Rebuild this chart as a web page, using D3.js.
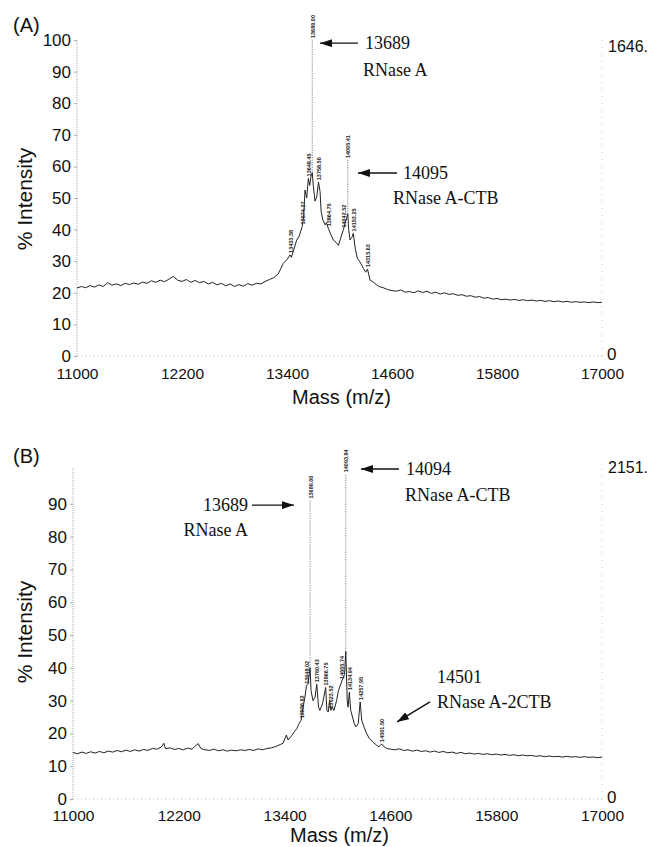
<!DOCTYPE html>
<html><head><meta charset="utf-8">
<script src="https://cdn.jsdelivr.net/npm/d3@7"></script>
<style>body{margin:0;background:#fff}svg{display:block}</style>
</head><body>
<svg id="c" width="653" height="847"></svg>
<script>
// ---------------- data ----------------
const xTicks = [11000, 12200, 13400, 14600, 15800, 17000];
const yTicksA = [0,10,20,30,40,50,60,70,80,90,100];
const yTicksB = [0,10,20,30,40,50,60,70,80,90];

// Panel A spectrum: [mass, % intensity]
const spectrumA = [
 [11000,21.5],[11050,22.0],[11100,21.6],[11150,22.3],[11200,21.8],[11250,22.5],[11300,22.0],[11350,23.2],
 [11400,22.4],[11450,22.8],[11500,22.3],[11550,23.0],[11600,22.6],[11650,23.1],[11700,22.7],[11750,23.4],
 [11800,23.0],[11850,23.8],[11900,23.3],[11950,24.0],[12000,23.5],[12050,24.3],[12100,25.2],[12150,24.0],
 [12200,23.6],[12250,24.2],[12300,23.3],[12350,23.9],[12400,23.2],[12450,23.6],[12500,22.8],[12550,23.3],
 [12600,22.5],[12650,23.0],[12700,22.2],[12750,22.8],[12800,22.0],[12850,22.6],[12900,22.1],[12950,22.9],
 [13000,22.4],[13050,23.0],[13100,22.8],[13150,23.6],[13200,24.2],[13250,24.8],[13300,26.0],
 [13358,29.3],[13400,30.5],[13435,32.0],[13450,31.2],[13511,36.7],[13540,38.0],[13574,41.0],[13590,44.0],
 [13606,52.5],[13625,50.0],[13644,56.2],[13660,54.0],[13675,57.0],[13689,58.0],[13700,54.0],[13720,49.0],
 [13740,50.4],[13760,55.0],[13778,52.0],[13790,45.7],[13810,43.0],[13835,41.5],[13850,42.2],[13872,40.4],
 [13900,38.5],[13929,36.7],[13960,36.0],[13987,35.0],[14010,37.0],[14044,40.0],[14065,42.0],[14095,45.0],
 [14105,40.0],[14120,36.7],[14140,37.5],[14158,38.8],[14180,34.0],[14204,30.9],[14240,29.5],[14273,27.7],
 [14300,26.5],[14320,27.5],[14349,24.0],[14380,23.5],[14426,22.5],
 [14450,22.0],[14500,21.6],[14550,21.0],[14600,20.7],[14650,20.5],[14700,20.9],[14750,20.2],[14800,20.4],
 [14850,20.0],[14900,20.6],[14950,20.1],[15000,20.5],[15050,19.8],[15100,20.2],[15150,19.6],[15200,20.0],
 [15250,19.5],[15300,19.7],[15350,19.2],[15400,19.4],[15450,18.9],[15500,19.1],[15550,18.6],[15600,18.8],
 [15650,18.3],[15700,18.5],[15750,18.0],[15800,18.2],[15850,17.8],[15900,18.0],[15950,17.7],[16000,17.9],
 [16050,17.6],[16100,17.8],[16150,17.5],[16200,17.7],[16250,17.4],[16300,17.6],[16350,17.3],[16400,17.5],
 [16450,17.2],[16500,17.4],[16550,17.1],[16600,17.3],[16650,17.0],[16700,17.2],[16750,17.0],[16800,17.1],
 [16850,16.9],[16900,17.1],[16950,16.9],[17000,17.0]
];
// spikes: [mass, base, top]
const spikesA = [[13689,58,100],[14095,45,62]];
// peak labels: [text, mass, intensity]
const peakLabelsA = [
 ["13433.38",13435,32.0],["13574.27",13574,41.0],["13648.45",13644,56.2],["13689.00",13689,100],
 ["13758.50",13760,55.0],["13864.75",13872,40.4],["14042.52",14044,40.0],["14095.41",14095,62],
 ["14153.25",14158,38.8],["14315.63",14320,27.5]
];

// Panel B spectrum
const spectrumB = [
 [11000,14.2],[11050,13.8],[11100,14.3],[11150,13.9],[11200,14.4],[11250,14.0],[11300,14.5],[11350,14.1],
 [11400,14.6],[11450,14.3],[11500,14.8],[11550,14.4],[11600,14.9],[11650,14.5],[11700,15.0],[11750,14.6],
 [11800,15.1],[11850,14.8],[11900,15.4],[11950,15.2],[12000,15.8],[12030,17.0],[12050,15.3],[12100,15.6],
 [12150,15.1],[12200,15.4],[12250,15.0],[12300,15.5],[12350,15.2],[12380,16.0],[12420,16.9],[12450,15.4],
 [12500,15.0],[12550,14.8],[12600,15.2],[12650,14.7],[12700,15.0],[12750,14.6],[12800,14.9],[12850,14.7],
 [12900,15.0],[12950,14.8],[13000,15.1],[13050,14.8],[13100,15.3],[13150,15.0],[13200,15.4],[13250,15.6],
 [13300,16.0],[13350,16.6],[13383,17.0],[13420,19.5],[13440,18.0],[13480,19.3],[13510,20.5],[13540,21.5],
 [13560,22.8],[13587,24.0],[13610,28.0],[13630,31.0],[13648,34.5],[13665,35.0],[13689,40.0],[13700,33.0],
 [13722,30.0],[13745,31.0],[13765,35.0],[13785,28.0],[13800,27.0],[13830,29.0],[13866,34.0],[13880,27.0],
 [13895,26.5],[13910,30.0],[13925,27.0],[13940,28.0],[13960,27.0],[13990,30.0],[14010,33.0],[14050,36.0],
 [14080,38.0],[14094,45.0],[14110,30.0],[14120,28.0],[14134,32.6],[14150,27.0],[14170,25.0],[14190,23.0],
 [14210,22.0],[14235,23.0],[14257,29.6],[14275,24.0],[14300,22.0],[14330,20.0],[14360,18.5],[14400,17.4],
 [14440,16.5],[14470,15.9],[14501,16.8],[14530,15.9],[14560,15.4],[14600,15.2],
 [14650,15.0],[14700,15.3],[14750,14.8],[14800,15.0],[14850,14.6],[14900,14.9],[14950,14.5],[15000,14.7],
 [15050,14.3],[15100,14.6],[15150,14.2],[15200,14.5],[15250,14.1],[15300,14.3],[15350,13.9],[15400,14.2],
 [15450,13.8],[15500,14.0],[15550,13.7],[15600,13.9],[15650,13.6],[15700,13.8],[15750,13.5],[15800,13.7],
 [15850,13.4],[15900,13.6],[15950,13.3],[16000,13.5],[16050,13.2],[16100,13.4],[16150,13.2],[16200,13.3],
 [16250,13.0],[16300,13.2],[16350,12.9],[16400,13.1],[16450,12.9],[16500,13.0],[16550,12.8],[16600,13.0],
 [16650,12.8],[16700,12.9],[16750,12.7],[16800,12.9],[16850,12.7],[16900,12.8],[16950,12.6],[17000,12.8]
];
const spikesB = [[13689,40,91],[14094,45,99]];
const peakLabelsB = [
 ["13586.92",13587,24.0],["13648.02",13648,34.5],["13689.00",13689,91],["13760.43",13765,35.0],
 ["13866.75",13866,34.0],["13923.52",13925,27.0],["14005.74",14050,36.0],["14093.84",14094,99],
 ["14134.94",14134,32.6],["14257.95",14257,29.6],["14501.50",14501,16.8]
];

// annotations (data units): number, name, arrow tail, arrow tip, text anchors
const annotA = [
 {num:"13689", name:"RNase A", tail:[14211,99], tip:[13777,99], numAt:[14291,97.2], nameAt:[14269,88.6], anchor:"start"},
 {num:"14095", name:"RNase A-CTB", tail:[14657,57.9], tip:[14211,57.9], numAt:[14726,56], nameAt:[14611,48.1], anchor:"start"}
];
const annotB = [
 {num:"13689", name:"RNase A", tail:[13030,89.6], tip:[13506,89.6], numAt:[12985,87.8], nameAt:[12985,80.2], anchor:"end"},
 {num:"14094", name:"RNase A-CTB", tail:[14697,100.6], tip:[14266,100.6], numAt:[14777,98.8], nameAt:[14765,90.9], anchor:"start"},
 {num:"14501", name:"RNase A-2CTB", tail:[15049,29.6], tip:[14675,23.5], numAt:[15128,35.4], nameAt:[15128,27.7], anchor:"start"}
];

// ---------------- drawing ----------------
const svg = d3.select("#c");
const defs = svg.append("defs");
defs.append("marker").attr("id","ah").attr("viewBox","0 0 12 8")
  .attr("refX",12).attr("refY",4).attr("markerWidth",12).attr("markerHeight",8)
  .attr("markerUnits","userSpaceOnUse").attr("orient","auto")
  .append("path").attr("d","M0,0 L12,4 L0,8 Z").attr("fill","#111");

const SANS = "'Liberation Sans', Arial, sans-serif";
const SERIF = "'Liberation Serif', 'Times New Roman', serif";

function panel(cfg) {
  const x = d3.scaleLinear().domain([11000,17000]).range(cfg.xr);
  const y = d3.scaleLinear().domain([0,100]).range(cfg.yr);
  const g = svg.append("g");

  // x axis baseline (sparse dots)
  g.append("line").attr("x1",x(11000)).attr("x2",x(17000)).attr("y1",y(0)).attr("y2",y(0))
    .attr("stroke","#aaa").attr("stroke-width",0.8).attr("stroke-dasharray","1,3");
  // right axis (faint dotted)
  g.append("line").attr("x1",x(17000)).attr("x2",x(17000)).attr("y1",y(0)).attr("y2",y(cfg.top))
    .attr("stroke","#bbb").attr("stroke-width",0.8).attr("stroke-dasharray","1,6");

  // y axis
  const ya = g.append("g").attr("transform",`translate(${x(11000)},0)`)
    .call(d3.axisLeft(y).tickValues(cfg.yticks).tickSize(3).tickPadding(3));
  ya.select(".domain").remove();
  ya.selectAll(".tick line").attr("stroke","#999").attr("stroke-width",0.8);
  ya.selectAll("text").attr("font-family",SANS).attr("font-size",17).attr("fill","#111");
  g.append("line").attr("x1",x(11000)).attr("x2",x(11000)).attr("y1",y(0)).attr("y2",y(cfg.top))
    .attr("stroke","#999").attr("stroke-width",0.8).attr("stroke-dasharray","1,1");

  // x axis labels
  const xa = g.append("g").attr("transform",`translate(0,${y(0)})`)
    .call(d3.axisBottom(x).tickValues(xTicks).tickFormat(d3.format("d")).tickSize(0).tickPadding(cfg.xpad));
  xa.select(".domain").remove();
  xa.selectAll("text").attr("font-family",SANS).attr("font-size",15.5).attr("fill","#111");

  // spectrum
  const line = d3.line().x(d=>x(d[0])).y(d=>y(d[1]));
  g.append("path").datum(cfg.spectrum).attr("d",line).attr("fill","none")
    .attr("stroke","#222").attr("stroke-width",1).attr("stroke-linejoin","round");
  // spikes
  g.selectAll(".spike").data(cfg.spikes).join("line")
    .attr("x1",d=>x(d[0])).attr("x2",d=>x(d[0])).attr("y1",d=>y(d[1])).attr("y2",d=>y(d[2]))
    .attr("stroke","#777").attr("stroke-width",0.9).attr("stroke-dasharray","1.2,1.2");

  // peak labels
  g.selectAll(".pl").data(cfg.peakLabels).join("text")
    .attr("transform",d=>`translate(${x(d[1])+2.5},${y(d[2])-2}) rotate(-90)`)
    .attr("font-family",SANS).attr("font-size",5.5).attr("font-weight","bold").attr("fill","#222")
    .text(d=>d[0]);

  // annotations
  cfg.annot.forEach(a=>{
    g.append("line").attr("x1",x(a.tail[0])).attr("y1",y(a.tail[1]))
      .attr("x2",x(a.tip[0])).attr("y2",y(a.tip[1]))
      .attr("stroke","#111").attr("stroke-width",1.4).attr("marker-end","url(#ah)");
    g.append("text").attr("x",x(a.numAt[0])).attr("y",y(a.numAt[1])).attr("text-anchor",a.anchor)
      .attr("font-family",SERIF).attr("font-size",18).attr("fill","#111").text(a.num);
    g.append("text").attr("x",x(a.nameAt[0])).attr("y",y(a.nameAt[1])).attr("text-anchor",a.anchor)
      .attr("font-family",SERIF).attr("font-size",18).attr("fill","#111").text(a.name);
  });

  // panel tag
  g.append("text").attr("x",13).attr("y",cfg.tagY).attr("font-family",SANS).attr("font-size",20)
    .attr("fill","#111").text(cfg.tag);
  // y title
  g.append("text").attr("transform",`translate(32,${cfg.ytitleY}) rotate(-90)`).attr("text-anchor","middle")
    .attr("font-family",SANS).attr("font-size",21).attr("fill","#111").text("% Intensity");
  // x title
  g.append("text").attr("x",(cfg.xr[0]+cfg.xr[1])/2+2).attr("y",cfg.xtitleY).attr("text-anchor","middle")
    .attr("font-family",SANS).attr("font-size",20).attr("fill","#111").text("Mass (m/z)");
  // right labels
  g.append("text").attr("x",x(17000)+6).attr("y",cfg.maxY).attr("font-family",SANS).attr("font-size",16)
    .attr("fill","#111").text(cfg.maxLabel);
  g.append("text").attr("x",x(17000)+5).attr("y",y(0)+4).attr("font-family",SANS).attr("font-size",17)
    .attr("fill","#111").text("0");
}

panel({xr:[77,602], yr:[356,40], top:100, yticks:yTicksA, xpad:12, spectrum:spectrumA, spikes:spikesA,
  peakLabels:peakLabelsA, annot:annotA, tag:"(A)", tagY:32, ytitleY:199, xtitleY:404, maxLabel:"1646.", maxY:52});
panel({xr:[73,602], yr:[799,471], top:101, yticks:yTicksB, xpad:11, spectrum:spectrumB, spikes:spikesB,
  peakLabels:peakLabelsB, annot:annotB, tag:"(B)", tagY:463, ytitleY:632, xtitleY:842, maxLabel:"2151.", maxY:473});
</script>
</body></html>
